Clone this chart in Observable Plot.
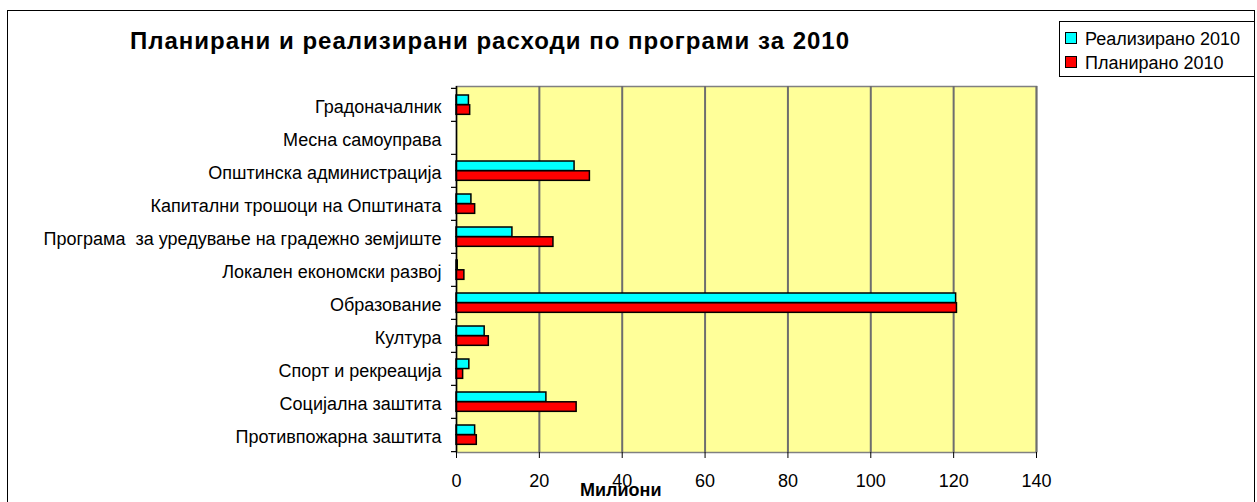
<!DOCTYPE html>
<html>
<head>
<meta charset="utf-8">
<script src="https://cdn.jsdelivr.net/npm/d3@7"></script>
<script src="https://cdn.jsdelivr.net/npm/@observablehq/plot@0.6"></script>
<style>
  html, body { margin: 0; padding: 0; background: #fff; }
  #wrap { position: relative; width: 1257px; height: 502px; overflow: hidden; font-family: "Liberation Sans", Arial, sans-serif; }
  #border { position: absolute; left: 7px; top: 10px; width: 1248px; height: 500px; border: 1.5px solid #000; box-sizing: border-box; }
  #chart { position: absolute; left: 0; top: 0; }
  #title { position: absolute; left: 130px; top: 29px; font-size: 24px; line-height: 24px; letter-spacing: 1px; font-weight: bold; white-space: nowrap; color: #000; }
  #legend { position: absolute; left: 1059px; top: 21px; width: 196px; height: 56px; border: 1px solid #000; box-sizing: border-box; background: #fff; }
  .row { position: absolute; left: 5px; font-size: 18px; line-height: 18px; white-space: nowrap; }
  .sw { display: inline-block; width: 10px; height: 10px; border: 1px solid #000; margin-right: 8px; vertical-align: 1px; }
  #xlabel { position: absolute; left: 580px; top: 481px; font-size: 18px; line-height: 18px; font-weight: bold; white-space: nowrap; }
</style>
</head>
<body>
<div id="wrap">
  <div id="border"></div>
  <div id="chart"></div>
  <div id="title"></div>
  <div id="legend"></div>
  <div id="xlabel"></div>
</div>
<script>
const categories = [
  "Градоначалник",
  "Месна самоуправа",
  "Општинска администрација",
  "Капитални трошоци на Општината",
  "Програма  за уредување на градежно земјиште",
  "Локален економски развој",
  "Образование",
  "Култура",
  "Спорт и рекреација",
  "Социјална заштита",
  "Противпожарна заштита"
];
const realized2010 = [3.0, 0, 28.5, 3.6, 13.5, 0.3, 120.6, 6.8, 3.1, 21.7, 4.5];
const planned2010  = [3.3, 0, 32.2, 4.5, 23.4, 1.9, 120.8, 7.8, 1.6, 29.0, 4.9];
const seriesNames = ["Реализирано 2010", "Планирано 2010"];
const seriesColors = ["#00ffff", "#ff0000"];
const xTicks = [0, 20, 40, 60, 80, 100, 120, 140];
const titleText = "Планирани и реализирани расходи по програми за 2010";
const xLabelText = "Милиони";

const realizedData = categories.map((c, i) => ({cat: c, value: realized2010[i]}));
const plannedData = categories.map((c, i) => ({cat: c, value: planned2010[i]}));

const W = 1257, H = 502;
const mTop = 86, mBottom = 50, mLeft = 456, mRight = 221;
const bw = (H - mTop - mBottom) / categories.length;

const chart = Plot.plot({
  width: W,
  height: H,
  marginTop: mTop,
  marginBottom: mBottom,
  marginLeft: mLeft,
  marginRight: mRight,
  style: {fontFamily: "'Liberation Sans', Arial, sans-serif", fontSize: "18px", background: "transparent", color: "#000"},
  x: {domain: [0, 140], ticks: xTicks},
  y: {domain: categories, padding: 0},
  marks: [
    Plot.frame({fill: "#ffff99", stroke: "#808080", strokeWidth: 1.5}),
    Plot.gridX(xTicks.slice(1), {stroke: "#6e6e6e", strokeOpacity: 1, strokeWidth: 2}),
    Plot.barX(realizedData, {x: "value", y: "cat", fill: seriesColors[0], stroke: "#000", strokeWidth: 1.5, insetTop: 7, insetBottom: bw - 16.8}),
    Plot.barX(plannedData, {x: "value", y: "cat", fill: seriesColors[1], stroke: "#000", strokeWidth: 1.5, insetTop: 16.8, insetBottom: bw - 26.6}),
    Plot.ruleX([0], {stroke: "#000", strokeWidth: 1.5}),
    Plot.ruleY(categories, {y: d => d, x1: 0, x2: 0, insetLeft: -5, dy: -bw / 2, stroke: "#000", strokeWidth: 1.2}),
    Plot.ruleY(categories.slice(-1), {y: d => d, x1: 0, x2: 0, insetLeft: -5, dy: bw / 2, stroke: "#000", strokeWidth: 1.2}),
    Plot.axisX({ticks: xTicks, tickSize: 6, tickPadding: 16, tickFormat: d => String(d), label: null, fontSize: 18, stroke: "#000"}),
    Plot.ruleY([0], {y: () => 0, frameAnchor: "bottom", stroke: "#000", strokeWidth: 1.5}),
    Plot.axisY({tickSize: 0, tickPadding: 15, label: null, fontSize: 18, dy: 2})
  ]
});
document.getElementById("chart").appendChild(chart);

document.getElementById("title").textContent = titleText;
document.getElementById("xlabel").textContent = xLabelText;
const legend = document.getElementById("legend");
seriesNames.forEach((name, i) => {
  const row = document.createElement("div");
  row.className = "row";
  row.style.top = (8 + i * 24) + "px";
  const sw = document.createElement("span");
  sw.className = "sw";
  sw.style.background = seriesColors[i];
  row.appendChild(sw);
  row.appendChild(document.createTextNode(name));
  legend.appendChild(row);
});
</script>
</body>
</html>
